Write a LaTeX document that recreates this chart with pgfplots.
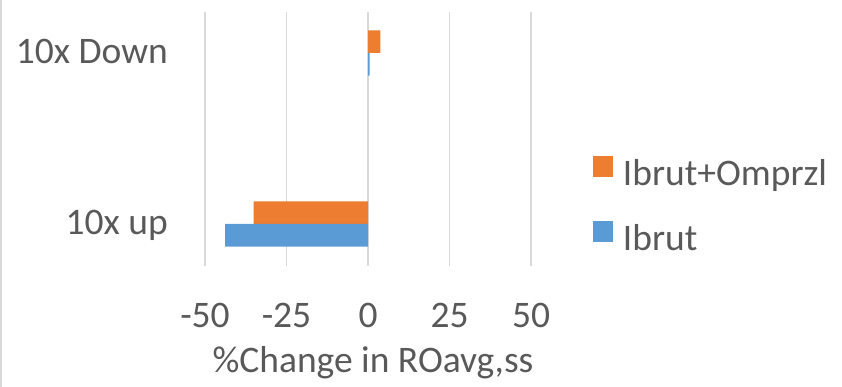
\documentclass[border=0pt]{standalone}
\usepackage{fontspec}
\setmainfont{Carlito}
\usepackage{pgfplots}
\pgfplotsset{compat=1.18}
\definecolor{barOrange}{HTML}{ED7D31}
\definecolor{barBlue}{HTML}{5B9BD5}
\definecolor{gridGray}{HTML}{D9D9D9}
\definecolor{textGray}{HTML}{595959}
\newcommand{\chartfont}{\fontsize{37.5}{45}\selectfont}
\begin{document}
\begin{tikzpicture}[x=1pt,y=1pt]
\path[use as bounding box] (0,0) rectangle (842,387);
% chart area border on the left
\draw[gridGray, line width=2pt] (1,0) -- (1,387);
\begin{axis}[
  at={(205pt,121pt)}, anchor=south west,
  scale only axis, width=326pt, height=254pt,
  xbar, bar width=0.1316,
  xmin=-50, xmax=50, ymin=-0.2456, ymax=1.2398,
  xtick={-50,-25,0,25,50}, xticklabels={-50,-25,0,25,50},
  ytick={0,1}, yticklabels={10x up,10x Down},
  major tick length=0pt,
  axis line style={draw=none},
  xmajorgrids, grid style={gridGray, line width=1.8pt},
  ymajorgrids=false,
  every tick label/.append style={font=\chartfont, text=textGray},
  xticklabel style={anchor=base, inner sep=0pt, yshift=-62pt},
  yticklabel style={anchor=base east, inner sep=0pt, xshift=-37pt, yshift=-11pt},
  xlabel={\%Change in ROavg,ss},
  xlabel style={at={(axis description cs:0.5,0)}, anchor=base, inner sep=0pt,
    yshift=-107pt, xshift=5pt, font=\chartfont, text=textGray},
  legend style={at={(axis description cs:1.190,0.435)}, anchor=north west,
    draw=none, fill=none, inner sep=0pt, outer sep=0pt,
    row sep=27pt, column sep=10pt, font=\chartfont, text=textGray,
    nodes={inner sep=0pt, text height=26pt, text depth=8pt}},
  legend cell align=left,
]
\addplot[fill=barOrange, draw=none, bar shift=0.0658,
  legend image code/.code={\fill[barOrange] (0pt,0pt) rectangle (20pt,21pt);}]
  coordinates {(-35.1,0) (3.8,1)};
\addlegendentry{Ibrut+Omprzl}
\addplot[fill=barBlue, draw=none, bar shift=-0.0658,
  legend image code/.code={\fill[barBlue] (0pt,0pt) rectangle (20pt,21pt);}]
  coordinates {(-43.8,0) (0.5,1)};
\addlegendentry{Ibrut}
\end{axis}
\end{tikzpicture}
\end{document}
